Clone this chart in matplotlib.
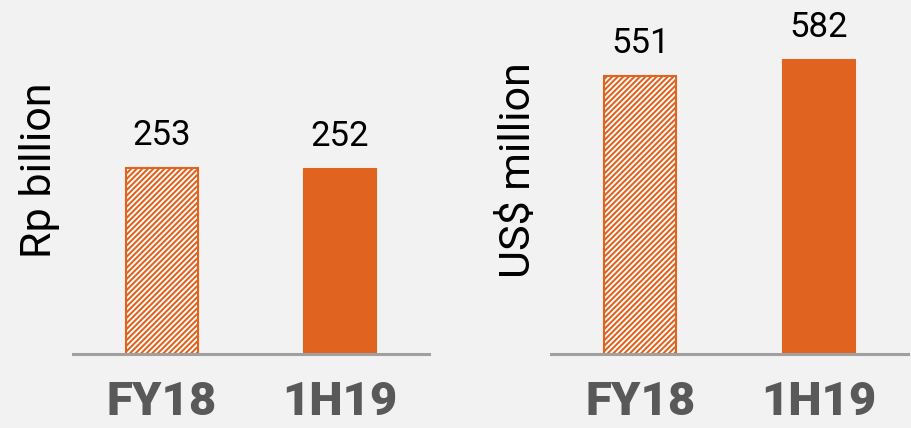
import matplotlib
matplotlib.use("Agg")
import matplotlib.pyplot as plt

periods = ["FY18", "1H19"]
rp_values = [253, 252]
usd_values = [551, 582]

bg = "#F2F2F2"
orange = "#E06420"

plt.rcParams['font.family'] = ['Roboto', 'DejaVu Sans']
plt.rcParams['hatch.color'] = orange
plt.rcParams['hatch.linewidth'] = 1.5

fig = plt.figure(figsize=(9.11, 4.28), dpi=100, facecolor=bg)

def draw_panel(ax, values, ymax, ylabel, label_x):
    ax.set_facecolor(bg)
    x = list(range(len(values)))
    bars = ax.bar(x, values, width=0.404, color=["white", orange],
                  edgecolor=orange, linewidth=1.5)
    bars[0].set_hatch("//////")
    for xi, v in zip(x, values):
        ax.text(xi, v + ymax * 0.045, str(v), ha="center", va="bottom",
                fontsize=25, color="black")
    ax.set_xlim(-0.5, 1.5)
    ax.set_ylim(0, ymax)
    ax.set_yticks([])
    ax.set_xticks(x)
    ax.set_xticklabels(periods, fontsize=34, fontweight="heavy", color="#595959")
    ax.tick_params(axis="x", length=0, pad=19)
    for s in ["top", "right", "left"]:
        ax.spines[s].set_visible(False)
    ax.spines["bottom"].set_color("#A0A0A0")
    ax.spines["bottom"].set_linewidth(2.2)
    fig.text(label_x, 0.603, ylabel, rotation=90, ha="center", va="center",
             fontsize=31, color="black")

ax1 = fig.add_axes([73 / 911, 74 / 428, 356 / 911, 354 / 428])
draw_panel(ax1, rp_values, 481, "Rp billion", 40 / 911)
ax2 = fig.add_axes([551 / 911, 74 / 428, 357 / 911, 354 / 428])
draw_panel(ax2, usd_values, 701, "US$ million", 518 / 911)

fig.savefig("out.png", dpi=100, facecolor=bg)
